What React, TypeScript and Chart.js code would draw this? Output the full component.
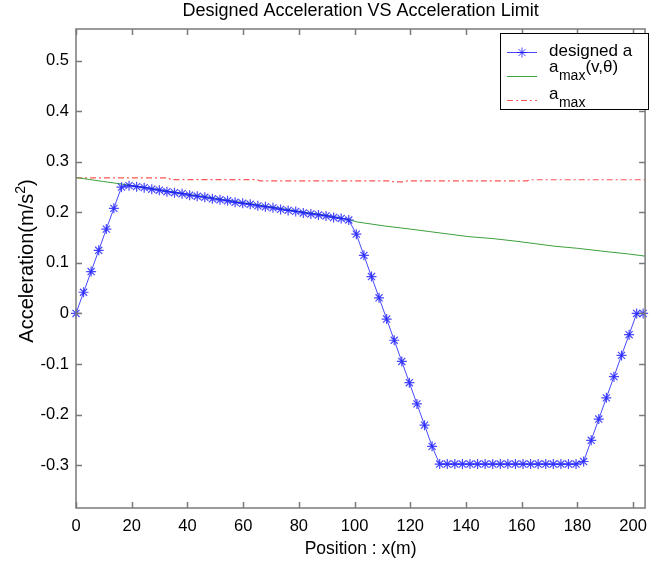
import React, { useEffect, useRef } from 'react';
import { Chart, registerables } from 'chart.js';

Chart.register(...registerables);

const FONT = "'Liberation Sans', Arial, Helvetica, sans-serif";

const TITLE = 'Designed Acceleration VS Acceleration Limit';
const X_TITLE = 'Position : x(m)';
const Y_TITLE_MAIN = 'Acceleration(m/s';
const Y_TITLE_SUP = '2';
const Y_TITLE_END = ')';

const X_TICKS = [0, 20, 40, 60, 80, 100, 120, 140, 160, 180, 200];
const X_TICK_LABELS = ['0', '20', '40', '60', '80', '100', '120', '140', '160', '180', '200'];
const Y_TICKS = [-0.3, -0.2, -0.1, 0, 0.1, 0.2, 0.3, 0.4, 0.5];
const Y_TICK_LABELS = ['-0.3', '-0.2', '-0.1', '0', '0.1', '0.2', '0.3', '0.4', '0.5'];

// designed a
const POS_A = [
  0, 2.72, 5.44, 8.16, 10.88, 13.6, 16.32, 19.04, 21.76, 24.48, 27.2, 29.92, 32.64, 35.36, 38.08,
  40.8, 43.52, 46.24, 48.96, 51.68, 54.4, 57.12, 59.84, 62.56, 65.28, 68, 70.72, 73.44, 76.16,
  78.88, 81.6, 84.32, 87.04, 89.76, 92.48, 95.2, 97.92, 100.64, 103.36, 106.08, 108.8, 111.52,
  114.24, 116.96, 119.68, 122.4, 125.12, 127.84, 130.56, 133.28, 136, 138.72, 141.44, 144.16,
  146.88, 149.6, 152.32, 155.04, 157.76, 160.48, 163.2, 165.92, 168.64, 171.36, 174.08, 176.8,
  179.52, 182.24, 184.96, 187.68, 190.4, 193.12, 195.84, 198.56, 201.28, 203.6,
];
const ACC_A = [
  0, 0.042, 0.083, 0.125, 0.167, 0.208, 0.25,
  0.253, 0.251, 0.249, 0.246, 0.244, 0.241, 0.239, 0.237, 0.234, 0.232, 0.23, 0.227, 0.225,
  0.223, 0.22, 0.218, 0.216, 0.213, 0.211, 0.209, 0.206, 0.204, 0.202, 0.199, 0.197, 0.195,
  0.193, 0.19, 0.188, 0.185,
  0.157, 0.115, 0.073, 0.031, -0.011, -0.053, -0.095, -0.137, -0.179, -0.221, -0.263,
  -0.298, -0.298, -0.298, -0.298, -0.298, -0.298, -0.298, -0.298, -0.298, -0.298, -0.298,
  -0.298, -0.298, -0.298, -0.298, -0.298, -0.298, -0.298, -0.298,
  -0.293, -0.251, -0.209, -0.167, -0.125, -0.083, -0.042, 0,
  0,
];

// a_max(v, theta)
const POS_G = [0, 5, 10, 18, 30, 40, 50, 60, 70, 80, 90, 97, 101, 111, 120, 127, 134, 141, 150, 158, 165, 172, 180, 191, 198, 204.3];
const ACC_G = [0.269, 0.265, 0.261, 0.255, 0.245, 0.236, 0.228, 0.219, 0.211, 0.202, 0.194, 0.187, 0.181, 0.173, 0.167, 0.162, 0.157, 0.152, 0.148, 0.143, 0.138, 0.133, 0.129, 0.122, 0.118, 0.1135];

// a_max
const POS_R = [0, 33, 34, 65, 66, 113, 114, 118, 119, 162, 163, 204.3];
const ACC_R = [0.2685, 0.2685, 0.265, 0.265, 0.2626, 0.2626, 0.2606, 0.2606, 0.2626, 0.2626, 0.2646, 0.2646];

const X_MIN = 0;
const X_MAX = 204.3;
const Y_MIN = -0.385;
const Y_MAX = 0.563;

const BLUE = 'rgba(20,20,255,0.78)';
const GREEN = 'rgb(60,160,60)';
const RED = 'rgb(255,85,85)';
const AXIS = '#7a7a7a';
const RED_DASH = [6, 3, 2, 3];

function drawStar(ctx: CanvasRenderingContext2D, x: number, y: number, r: number) {
  ctx.beginPath();
  ctx.moveTo(x - r, y); ctx.lineTo(x + r, y);
  ctx.moveTo(x, y - r); ctx.lineTo(x, y + r);
  const d = r * Math.SQRT1_2;
  ctx.moveTo(x - d, y - d); ctx.lineTo(x + d, y + d);
  ctx.moveTo(x - d, y + d); ctx.lineTo(x + d, y - d);
  ctx.stroke();
}

const decorPlugin = {
  id: 'decor',
  afterDraw(chart: any) {
    const ctx: CanvasRenderingContext2D = chart.ctx;
    const ca = chart.chartArea;
    const xs = chart.scales.x;
    const ys = chart.scales.y;
    ctx.save();

    // title
    ctx.fillStyle = '#000';
    ctx.font = `18px ${FONT}`;
    ctx.textAlign = 'center';
    ctx.textBaseline = 'alphabetic';
    ctx.fillText(TITLE, (ca.left + ca.right) / 2, 16);

    // x title
    ctx.font = `17.5px ${FONT}`;
    ctx.fillText(X_TITLE, (ca.left + ca.right) / 2, 554);

    // y title (rotated, with superscript)
    ctx.save();
    ctx.translate(33, 261);
    ctx.rotate(-Math.PI / 2);
    ctx.textAlign = 'left';
    ctx.font = `20px ${FONT}`;
    const w1 = ctx.measureText(Y_TITLE_MAIN).width;
    const w3 = ctx.measureText(Y_TITLE_END).width;
    ctx.font = `14px ${FONT}`;
    const w2 = ctx.measureText(Y_TITLE_SUP).width;
    let sx = -(w1 + w2 + w3) / 2;
    ctx.font = `20px ${FONT}`;
    ctx.fillText(Y_TITLE_MAIN, sx, 0);
    sx += w1;
    ctx.font = `14px ${FONT}`;
    ctx.fillText(Y_TITLE_SUP, sx, -8);
    sx += w2;
    ctx.font = `20px ${FONT}`;
    ctx.fillText(Y_TITLE_END, sx, 0);
    ctx.restore();

    // frame and inward ticks
    ctx.strokeStyle = AXIS;
    ctx.lineWidth = 1.5;
    ctx.strokeRect(ca.left, ca.top, ca.right - ca.left, ca.bottom - ca.top);
    ctx.beginPath();
    for (const v of X_TICKS) {
      const px = Math.round(xs.getPixelForValue(v)) + 0.5;
      ctx.moveTo(px, ca.bottom); ctx.lineTo(px, ca.bottom - 6);
      ctx.moveTo(px, ca.top); ctx.lineTo(px, ca.top + 6);
    }
    for (const v of Y_TICKS) {
      const py = Math.round(ys.getPixelForValue(v)) + 0.5;
      ctx.moveTo(ca.left, py); ctx.lineTo(ca.left + 6, py);
      ctx.moveTo(ca.right, py); ctx.lineTo(ca.right - 6, py);
    }
    ctx.stroke();

    // legend
    const lx = 500, ly = 33, lw = 148, lh = 76;
    ctx.fillStyle = '#fff';
    ctx.fillRect(lx, ly, lw, lh);
    ctx.strokeStyle = '#000';
    ctx.lineWidth = 1;
    ctx.strokeRect(lx + 0.5, ly + 0.5, lw, lh);

    // row 1
    ctx.strokeStyle = BLUE;
    ctx.beginPath();
    ctx.moveTo(507, 52.5); ctx.lineTo(537, 52.5);
    ctx.stroke();
    drawStar(ctx, 522, 52.5, 5);
    ctx.fillStyle = '#000';
    ctx.textAlign = 'left';
    ctx.font = `17px ${FONT}`;
    ctx.fillText('designed a', 549, 56);

    // row 2
    ctx.strokeStyle = GREEN;
    ctx.beginPath();
    ctx.moveTo(507, 76.5); ctx.lineTo(537, 76.5);
    ctx.stroke();
    ctx.font = `17px ${FONT}`;
    ctx.fillText('a', 549, 72);
    let tx = 549 + ctx.measureText('a').width;
    ctx.font = `14px ${FONT}`;
    ctx.fillText('max', tx + 0.5, 80);
    tx += ctx.measureText('max').width + 0.5;
    ctx.font = `17px ${FONT}`;
    ctx.fillText('(v,θ)', tx, 72);

    // row 3
    ctx.strokeStyle = RED;
    ctx.setLineDash(RED_DASH);
    ctx.beginPath();
    ctx.moveTo(507, 100.5); ctx.lineTo(537, 100.5);
    ctx.stroke();
    ctx.setLineDash([]);
    ctx.font = `17px ${FONT}`;
    ctx.fillText('a', 549, 99);
    tx = 549 + ctx.measureText('a').width;
    ctx.font = `14px ${FONT}`;
    ctx.fillText('max', tx + 0.5, 107);

    ctx.restore();
  },
};

export default function App() {
  const ref = useRef<HTMLCanvasElement>(null);

  useEffect(() => {
    const canvas = ref.current;
    if (!canvas) return;
    const chart = new Chart(canvas, {
      type: 'line',
      data: {
        datasets: [
          {
            label: 'designed a',
            data: POS_A.map((x, i) => ({ x, y: ACC_A[i] })),
            borderColor: BLUE,
            borderWidth: 1,
            pointStyle: 'star',
            pointRadius: 5,
            pointBorderColor: BLUE,
            pointBorderWidth: 1.2,
            pointBackgroundColor: BLUE,
            fill: false,
            tension: 0,
            clip: 8,
          } as any,
          {
            label: 'a_max(v,θ)',
            data: POS_G.map((x, i) => ({ x, y: ACC_G[i] })),
            borderColor: GREEN,
            borderWidth: 1,
            pointRadius: 0,
            fill: false,
            tension: 0,
          },
          {
            label: 'a_max',
            data: POS_R.map((x, i) => ({ x, y: ACC_R[i] })),
            borderColor: RED,
            borderWidth: 1.2,
            borderDash: RED_DASH,
            pointRadius: 0,
            fill: false,
            tension: 0,
          },
        ],
      },
      options: {
        responsive: false,
        animation: false,
        devicePixelRatio: 1,
        layout: { padding: { left: 0, top: 29, right: 1, bottom: 0 } },
        plugins: {
          legend: { display: false },
          title: { display: false },
          tooltip: { enabled: false },
        },
        scales: {
          x: {
            type: 'linear',
            min: X_MIN,
            max: X_MAX,
            grid: { display: false, drawTicks: false },
            border: { display: false },
            afterBuildTicks: (scale: any) => {
              scale.ticks = X_TICKS.map((v) => ({ value: v }));
            },
            afterFit: (scale: any) => {
              scale.height = 58;
            },
            ticks: {
              color: '#000',
              padding: 9,
              maxRotation: 0,
              autoSkip: false,
              font: { family: FONT, size: 16.5 },
              callback: (v: any) => {
                const i = X_TICKS.indexOf(Number(v));
                return i >= 0 ? X_TICK_LABELS[i] : '';
              },
            },
          },
          y: {
            type: 'linear',
            min: Y_MIN,
            max: Y_MAX,
            grid: { display: false, drawTicks: false },
            border: { display: false },
            afterBuildTicks: (scale: any) => {
              scale.ticks = Y_TICKS.map((v) => ({ value: v }));
            },
            afterFit: (scale: any) => {
              scale.width = 76;
            },
            ticks: {
              color: '#000',
              padding: 7,
              autoSkip: false,
              font: { family: FONT, size: 16.5 },
              callback: (v: any) => {
                const i = Y_TICKS.findIndex((t) => Math.abs(t - Number(v)) < 1e-9);
                return i >= 0 ? Y_TICK_LABELS[i] : '';
              },
            },
          },
        },
      },
      plugins: [decorPlugin],
    } as any);
    return () => chart.destroy();
  }, []);

  return (
    <div style={{ position: 'fixed', left: 0, top: 0, width: 656, height: 566, background: '#fff' }}>
      <canvas ref={ref} width={656} height={566} style={{ display: 'block', width: 656, height: 566 }} />
    </div>
  );
}
